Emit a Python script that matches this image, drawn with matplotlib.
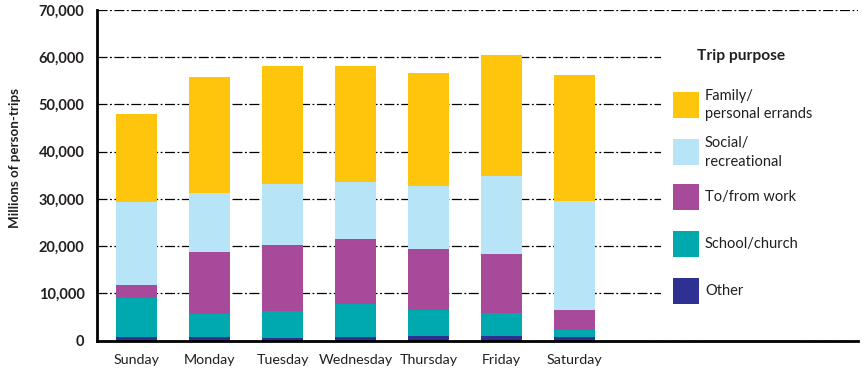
import matplotlib
matplotlib.use("Agg")
import matplotlib.pyplot as plt
from matplotlib.patches import Rectangle
import numpy as np

days = ["Sunday", "Monday", "Tuesday", "Wednesday", "Thursday", "Friday", "Saturday"]
other = [750, 750, 550, 750, 950, 950, 750]
school = [8320, 4930, 5700, 7050, 5580, 4880, 1540]
work = [2690, 13070, 13950, 13700, 12870, 12470, 4170]
social = [17540, 12500, 13000, 12100, 13300, 16550, 23090]
family = [18700, 24550, 25000, 24600, 24000, 25650, 26700]

series = [
    ("Other", other, "#2E3192"),
    ("School/church", school, "#00A9AE"),
    ("To/from work", work, "#A84A9A"),
    ("Social/\nrecreational", social, "#B8E4F8"),
    ("Family/\npersonal errands", family, "#FFC50D"),
]
yticks = [0, 10000, 20000, 30000, 40000, 50000, 60000, 70000]
ytick_labels = ["0", "10,000", "20,000", "30,000", "40,000", "50,000", "60,000", "70,000"]

plt.rcParams['font.family'] = ['Lato', 'DejaVu Sans']
TXT = '#231F20'

W, H = 867, 374
fig = plt.figure(figsize=(W / 100, H / 100), dpi=100)
ax = fig.add_axes([97 / W, 1 - 340.5 / H, (858 - 97) / W, (340.5 - 10) / H])

x = np.arange(len(days))
bottom = np.zeros(len(days))
for name, vals, color in series:
    ax.bar(x, vals, width=0.555, bottom=bottom, color=color, zorder=3, linewidth=0)
    bottom += np.array(vals)

ax.set_xlim(-0.541, 9.88)
ax.set_ylim(0, 70000)
ax.set_yticks(yticks)
ax.set_yticklabels(ytick_labels, fontsize=10.5, fontweight='bold', color=TXT)
ax.set_xticks(x)
ax.set_xticklabels(days, fontsize=10.3, color=TXT)
ax.tick_params(axis='both', length=0)
ax.tick_params(axis='y', pad=9)
ax.tick_params(axis='x', pad=10)

ax.yaxis.grid(True, color='black', linewidth=0.9, linestyle=(0, (8, 2, 1.5, 2)), zorder=1)
for s in ['top', 'right']:
    ax.spines[s].set_visible(False)
for s in ['left', 'bottom']:
    ax.spines[s].set_linewidth(2)
    ax.spines[s].set_color('black')
    ax.spines[s].set_zorder(5)

# white legend panel hiding the gridlines (except the top one)
ax.add_patch(Rectangle((661 / W, 1 - 337 / H), 200 / W, (337 - 15) / H,
                       transform=fig.transFigure, facecolor='white',
                       edgecolor='none', zorder=2, clip_on=False))

fig.text(15 / W, 1 - 158 / H, "Millions of person-trips", rotation=90,
         ha='center', va='center', fontsize=9.6, fontweight='bold', color=TXT)

# legend
fig.text(697 / W, 1 - 56 / H, "Trip purpose", ha='left', va='center',
         fontsize=11.2, fontweight='bold', color=TXT)
legend_items = list(reversed(series))
centers = [105, 152.3, 196.7, 244, 290.7]
for (name, vals, color), cy in zip(legend_items, centers):
    fig.patches.append(Rectangle((673 / W, 1 - (cy + 13) / H), 26 / W, 26 / H,
                                 transform=fig.transFigure, facecolor=color,
                                 edgecolor='none'))
    fig.text(705 / W, 1 - cy / H, name, ha='left', va='center', fontsize=10.5,
             color=TXT, linespacing=1.4)

fig.savefig("out.png", dpi=100)
